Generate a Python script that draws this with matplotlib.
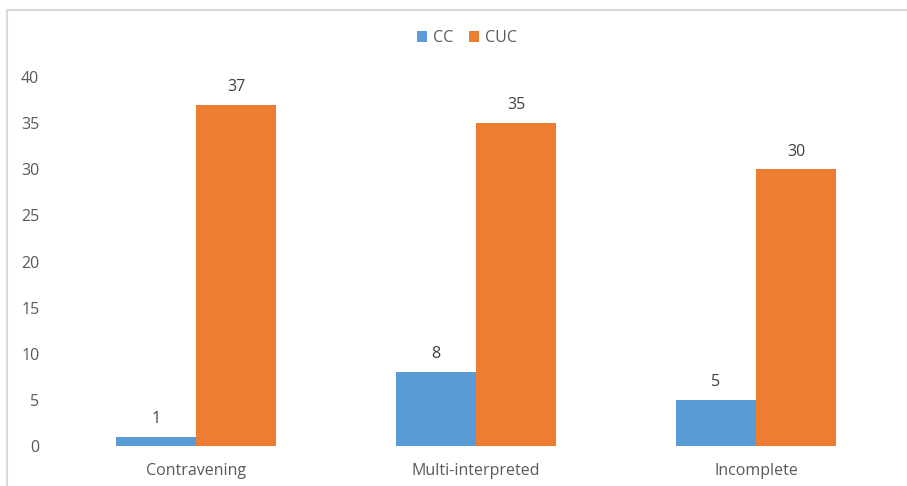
import matplotlib
matplotlib.use("Agg")
import matplotlib.pyplot as plt
from matplotlib.lines import Line2D
import numpy as np

categories = ["Contravening", "Multi-interpreted", "Incomplete"]
cc_values = [1, 8, 5]
cuc_values = [37, 35, 30]
series_names = ["CC", "CUC"]
yticks = [0, 5, 10, 15, 20, 25, 30, 35, 40]

plt.rcParams['font.family'] = ['Open Sans', 'DejaVu Sans']

W, H = 907, 486
fig = plt.figure(figsize=(W / 100, H / 100), dpi=100)

# chart border (light gray, extends beyond bottom/right)
fig.add_artist(Line2D([6.5 / W, 6.5 / W], [0, 1 - 10.5 / H], color="#D9D9D9", lw=1.5))
fig.add_artist(Line2D([6.5 / W, 1.0], [1 - 10.5 / H, 1 - 10.5 / H], color="#D9D9D9", lw=1.5))

left, right = 56 / W, 896 / W
bottom, top = (H - 446) / H, (H - 77) / H
ax = fig.add_axes([left, bottom, right - left, top - bottom])

x = np.arange(len(categories))
bw = 0.2857
blue = "#5B9BD5"
orange = "#ED7D31"
b1 = ax.bar(x - bw / 2, cc_values, bw, color=blue, label=series_names[0])
b2 = ax.bar(x + bw / 2, cuc_values, bw, color=orange, label=series_names[1])

fs = 11.5
for bars, vals in ((b1, cc_values), (b2, cuc_values)):
    for r, v in zip(bars, vals):
        ax.annotate(str(v), (r.get_x() + r.get_width() / 2, v), xytext=(0, 7),
                    textcoords="offset points", ha="center", va="bottom",
                    fontsize=fs, color="#404040", clip_on=False)

ax.set_xlim(-0.5, 2.5)
ax.set_ylim(0, 40)
ax.set_yticks(yticks)
ax.set_xticks(x)
ax.set_xticklabels(categories)
ax.tick_params(axis="both", length=0, labelsize=fs, labelcolor="#595959")
ax.tick_params(axis="y", pad=12)
ax.tick_params(axis="x", pad=12)
for s in ax.spines.values():
    s.set_visible(False)

leg = fig.legend(handles=[b1, b2], labels=series_names, loc="center",
                 bbox_to_anchor=(467 / W, 1 - 38 / H), ncol=2, frameon=False,
                 fontsize=fs, handlelength=0.65, handleheight=0.65,
                 handletextpad=0.35, columnspacing=1.0)
for t in leg.get_texts():
    t.set_color("#595959")

fig.savefig("out.png", dpi=100)
